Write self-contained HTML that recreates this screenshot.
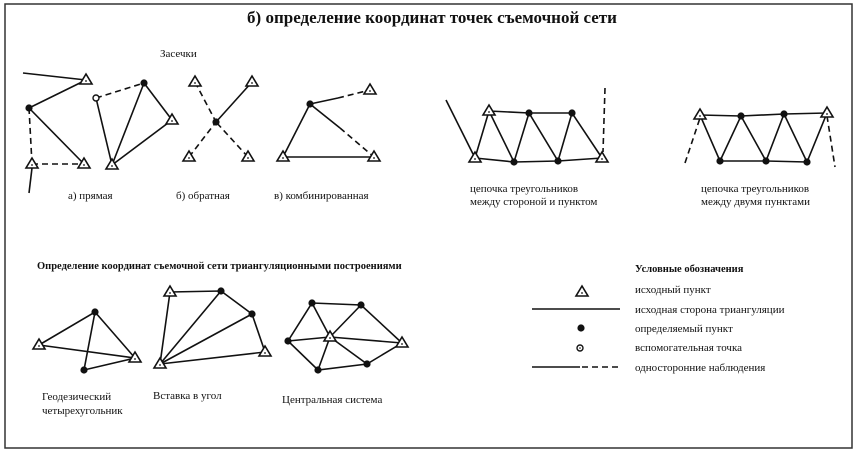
<!DOCTYPE html><html><head><meta charset="utf-8"><style>
body{margin:0;background:#fff}
svg{display:block}
text{font-family:"Liberation Serif","DejaVu Serif",serif;font-size:11px;fill:#111}
.b{font-weight:bold}
</style></head><body>
<svg width="856" height="453" viewBox="0 0 856 453" xmlns="http://www.w3.org/2000/svg">
<defs>
<g id="t"><polygon points="0,-6 6,4 -6,4" fill="#fff" stroke="#111" stroke-width="1.6"/><circle cx="0" cy="1" r="0.9" fill="#111"/></g>
<g id="d"><circle r="3.6" fill="#111"/></g>
</defs>
<rect x="5" y="4" width="847" height="444" fill="none" stroke="#333" stroke-width="1.5"/>
<text x="432" y="23" text-anchor="middle" class="b" style="font-size:17px">б) определение координат точек съемочной сети</text>
<g stroke="#111" stroke-width="1.6" fill="none">
<line x1="23" y1="73" x2="86" y2="80"/><line x1="29" y1="108" x2="86" y2="80"/>
<line x1="29" y1="108" x2="32" y2="164" stroke-dasharray="6,4"/><line x1="29" y1="108" x2="84" y2="164"/>
<line x1="32" y1="164" x2="84" y2="164" stroke-dasharray="6,4"/><line x1="29" y1="193" x2="32" y2="168"/>
<line x1="96" y1="98" x2="144" y2="83" stroke-dasharray="6,4"/><line x1="96" y1="98" x2="112" y2="165"/>
<line x1="144" y1="83" x2="112" y2="165"/><line x1="144" y1="83" x2="172" y2="120"/><line x1="172" y1="120" x2="112" y2="165"/>
<line x1="195" y1="82" x2="216" y2="122" stroke-dasharray="6,4"/><line x1="252" y1="82" x2="216" y2="122"/>
<line x1="189" y1="157" x2="216" y2="122" stroke-dasharray="6,4"/><line x1="248" y1="157" x2="216" y2="122" stroke-dasharray="6,4"/>
<line x1="310" y1="104" x2="338" y2="98"/><line x1="338" y1="98" x2="370" y2="90" stroke-dasharray="6,4"/>
<line x1="310" y1="104" x2="283" y2="157"/><line x1="310" y1="104" x2="340" y2="128"/><line x1="340" y1="128" x2="374" y2="157" stroke-dasharray="6,4"/>
<line x1="283" y1="157" x2="374" y2="157"/>
<line x1="446" y1="100" x2="475" y2="158"/>
<polyline points="489,111 529,113 572,113"/><polyline points="475,158 514,162 558,161 602,158"/>
<polyline points="475,158 489,111 514,162 529,113 558,161 572,113 602,158"/>
<line x1="605" y1="88" x2="603" y2="152" stroke-dasharray="6,4"/>
<polyline points="700,115 741,116 784,114 827,113"/><polyline points="720,161 766,161 807,162"/>
<polyline points="700,115 720,161 741,116 766,161 784,114 807,162 827,113"/>
<line x1="685" y1="163" x2="700" y2="118" stroke-dasharray="6,4"/><line x1="827" y1="116" x2="835" y2="167" stroke-dasharray="6,4"/>
<polyline points="39,345 95,312 135,358 84,370 95,312"/><line x1="39" y1="345" x2="135" y2="358"/>
<polyline points="160,364 170,292 221,291 252,314 265,352 160,364"/>
<line x1="160" y1="364" x2="221" y2="291"/><line x1="160" y1="364" x2="252" y2="314"/>
<polygon points="312,303 361,305 402,343 367,364 318,370 288,341"/>
<line x1="330" y1="337" x2="312" y2="303"/><line x1="330" y1="337" x2="361" y2="305"/><line x1="330" y1="337" x2="402" y2="343"/>
<line x1="330" y1="337" x2="367" y2="364"/><line x1="330" y1="337" x2="318" y2="370"/><line x1="330" y1="337" x2="288" y2="341"/>
<line x1="532" y1="309" x2="620" y2="309"/>
<line x1="532" y1="367" x2="580" y2="367"/><line x1="582" y1="367" x2="620" y2="367" stroke-dasharray="6,4"/>
</g>
<circle cx="96" cy="98" r="3" fill="#fff" stroke="#111" stroke-width="1.4"/>
<circle cx="580" cy="348" r="3" fill="#fff" stroke="#111" stroke-width="1.4"/><circle cx="580" cy="348" r="0.8" fill="#111"/>
<use href="#t" x="86" y="80"/><use href="#t" x="32" y="164"/><use href="#t" x="84" y="164"/>
<use href="#t" x="172" y="120"/><use href="#t" x="112" y="165"/>
<use href="#t" x="195" y="82"/><use href="#t" x="252" y="82"/><use href="#t" x="189" y="157"/><use href="#t" x="248" y="157"/>
<use href="#t" x="370" y="90"/><use href="#t" x="283" y="157"/><use href="#t" x="374" y="157"/>
<use href="#t" x="489" y="111"/><use href="#t" x="475" y="158"/><use href="#t" x="602" y="158"/>
<use href="#t" x="700" y="115"/><use href="#t" x="827" y="113"/>
<use href="#t" x="39" y="345"/><use href="#t" x="135" y="358"/>
<use href="#t" x="170" y="292"/><use href="#t" x="265" y="352"/><use href="#t" x="160" y="364"/>
<use href="#t" x="402" y="343"/><use href="#t" x="330" y="337"/>
<use href="#t" x="582" y="292"/>
<use href="#d" x="29" y="108"/><use href="#d" x="144" y="83"/><use href="#d" x="216" y="122"/><use href="#d" x="310" y="104"/>
<use href="#d" x="529" y="113"/><use href="#d" x="572" y="113"/><use href="#d" x="514" y="162"/><use href="#d" x="558" y="161"/>
<use href="#d" x="741" y="116"/><use href="#d" x="784" y="114"/><use href="#d" x="720" y="161"/><use href="#d" x="766" y="161"/><use href="#d" x="807" y="162"/>
<use href="#d" x="95" y="312"/><use href="#d" x="84" y="370"/>
<use href="#d" x="221" y="291"/><use href="#d" x="252" y="314"/>
<use href="#d" x="312" y="303"/><use href="#d" x="361" y="305"/><use href="#d" x="367" y="364"/><use href="#d" x="318" y="370"/><use href="#d" x="288" y="341"/>
<use href="#d" x="581" y="328"/>
<text x="160" y="57">Засечки</text>
<text x="68" y="199">а)  прямая</text>
<text x="176" y="199">б)  обратная</text>
<text x="274" y="199">в)  комбинированная</text>
<text x="470" y="192">цепочка треугольников</text>
<text x="470" y="205">между стороной и пунктом</text>
<text x="701" y="192">цепочка треугольников</text>
<text x="701" y="205">между двумя пунктами</text>
<text x="37" y="269" class="b" style="font-size:10.5px">Определение координат съемочной сети триангуляционными построениями</text>
<text x="42" y="400">Геодезический</text>
<text x="42" y="414">четырехугольник</text>
<text x="153" y="399">Вставка в угол</text>
<text x="282" y="403">Центральная система</text>
<text x="635" y="272" class="b" style="font-size:10.5px">Условные обозначения</text>
<text x="635" y="293">исходный пункт</text>
<text x="635" y="313">исходная сторона триангуляции</text>
<text x="635" y="332">определяемый пункт</text>
<text x="635" y="351">вспомогательная точка</text>
<text x="635" y="371">односторонние наблюдения</text>
</svg>
</body></html>
